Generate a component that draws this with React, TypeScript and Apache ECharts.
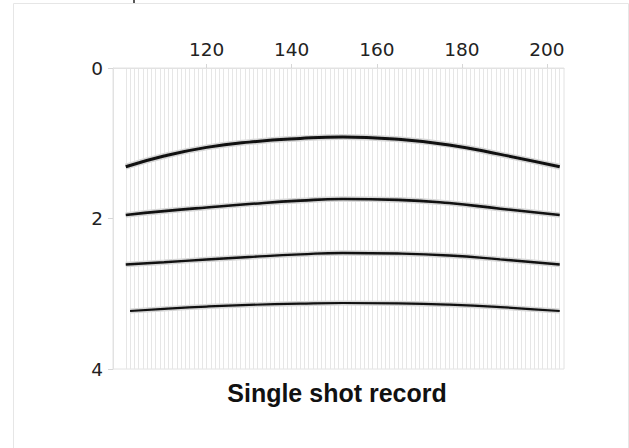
import React, { useEffect, useRef } from 'react';
import * as echarts from 'echarts';

const traceOffsets = [
  101, 102, 103, 104, 105, 106, 107, 108, 109, 110,
  111, 112, 113, 114, 115, 116, 117, 118, 119, 120,
  121, 122, 123, 124, 125, 126, 127, 128, 129, 130,
  131, 132, 133, 134, 135, 136, 137, 138, 139, 140,
  141, 142, 143, 144, 145, 146, 147, 148, 149, 150,
  151, 152, 153, 154, 155, 156, 157, 158, 159, 160,
  161, 162, 163, 164, 165, 166, 167, 168, 169, 170,
  171, 172, 173, 174, 175, 176, 177, 178, 179, 180,
  181, 182, 183, 184, 185, 186, 187, 188, 189, 190,
  191, 192, 193, 194, 195, 196, 197, 198, 199, 200,
  201, 202, 203,
];
const xTickValues = [120, 140, 160, 180, 200];

const reflectionOffsets = [101, 110, 120, 130, 142, 152, 165, 177, 189, 203];
const reflection1 = [1.312, 1.17, 1.055, 0.985, 0.937, 0.917, 0.948, 1.022, 1.148, 1.312];
const reflection2 = [1.953, 1.902, 1.853, 1.808, 1.763, 1.741, 1.752, 1.795, 1.87, 1.953];
const reflection3 = [2.611, 2.581, 2.545, 2.512, 2.477, 2.458, 2.466, 2.492, 2.543, 2.611];
const reflection4Offsets = [102, 110, 120, 130, 142, 152, 165, 177, 189, 203];
const reflection4 = [3.229, 3.2, 3.17, 3.148, 3.131, 3.123, 3.128, 3.145, 3.177, 3.229];

const titleText = 'Single shot record';

function pairs(xs: number[], ys: number[]) {
  return xs.map((x, i) => [x, ys[i]]);
}

export default function App() {
  const ref = useRef<HTMLDivElement>(null);
  useEffect(() => {
    if (!ref.current) return;
    const chart = echarts.init(ref.current, undefined, { renderer: 'svg' });
    const reflections = [
      { data: pairs(reflectionOffsets, reflection1), w: 3 },
      { data: pairs(reflectionOffsets, reflection2), w: 2.6 },
      { data: pairs(reflectionOffsets, reflection3), w: 2.4 },
      { data: pairs(reflection4Offsets, reflection4), w: 2.2 },
    ];
    const series: any[] = [
      {
        type: 'line',
        data: [],
        silent: true,
        z: 0,
        markLine: {
          silent: true,
          z: 0,
          symbol: ['none', 'none'],
          label: { show: false },
          lineStyle: { color: '#e6e6e6', width: 1, type: 'solid' },
          emphasis: { disabled: true },
          data: traceOffsets.map((v) => ({ xAxis: v })),
        },
      },
    ];
    reflections.forEach((r) => {
      series.push({
        type: 'line',
        data: r.data,
        showSymbol: false,
        smooth: 0.5,
        silent: true,
        lineStyle: { color: '#d6d6d6', width: r.w + 3 },
        z: 6,
      });
      series.push({
        type: 'line',
        data: r.data,
        showSymbol: false,
        smooth: 0.5,
        silent: true,
        lineStyle: { color: '#111111', width: r.w },
        z: 7,
      });
    });
    chart.setOption({
      animation: false,
      grid: {
        left: 113,
        right: 65,
        top: 68,
        bottom: 79,
        show: true,
        borderColor: '#e2e2e2',
        borderWidth: 1,
        backgroundColor: 'transparent',
      },
      xAxis: {
        type: 'value',
        position: 'top',
        min: 98,
        max: 204,
        axisLine: { show: true, lineStyle: { color: '#e2e2e2' } },
        axisTick: {
          show: true,
          customValues: xTickValues,
          length: 4,
          lineStyle: { color: '#d6d6d6' },
        },
        axisLabel: {
          customValues: xTickValues,
          margin: 9,
          fontSize: 18.5,
          fontFamily: 'DejaVu Sans',
          color: '#222',
        },
        splitLine: { show: false },
      },
      yAxis: {
        type: 'value',
        inverse: true,
        min: 0,
        max: 4,
        interval: 2,
        axisLine: { show: true, lineStyle: { color: '#e2e2e2' } },
        axisTick: { show: true, length: 5, lineStyle: { color: '#d6d6d6' } },
        axisLabel: {
          margin: 10,
          fontSize: 18.5,
          fontFamily: 'DejaVu Sans',
          color: '#222',
        },
        splitLine: { show: false },
      },
      graphic: [
        {
          type: 'rect',
          silent: true,
          shape: { x: 13.5, y: 3.5, width: 615, height: 460 },
          style: { fill: 'none', stroke: '#e6e6e6', lineWidth: 1 },
          z: -10,
        },
        {
          type: 'line',
          silent: true,
          shape: { x1: 134, y1: 0, x2: 134, y2: 3 },
          style: { stroke: '#222', lineWidth: 1.5 },
        },
        {
          type: 'text',
          silent: true,
          x: 337,
          y: 393,
          style: {
            text: titleText,
            fontSize: 25,
            fontWeight: 'bold',
            fontFamily: 'Liberation Sans',
            fill: '#111',
            textAlign: 'center',
            textVerticalAlign: 'middle',
          },
        },
      ],
      series,
    });
    return () => chart.dispose();
  }, []);
  return (
    <div
      ref={ref}
      style={{ position: 'fixed', left: 0, top: 0, width: 629, height: 448, background: '#fff' }}
    />
  );
}
